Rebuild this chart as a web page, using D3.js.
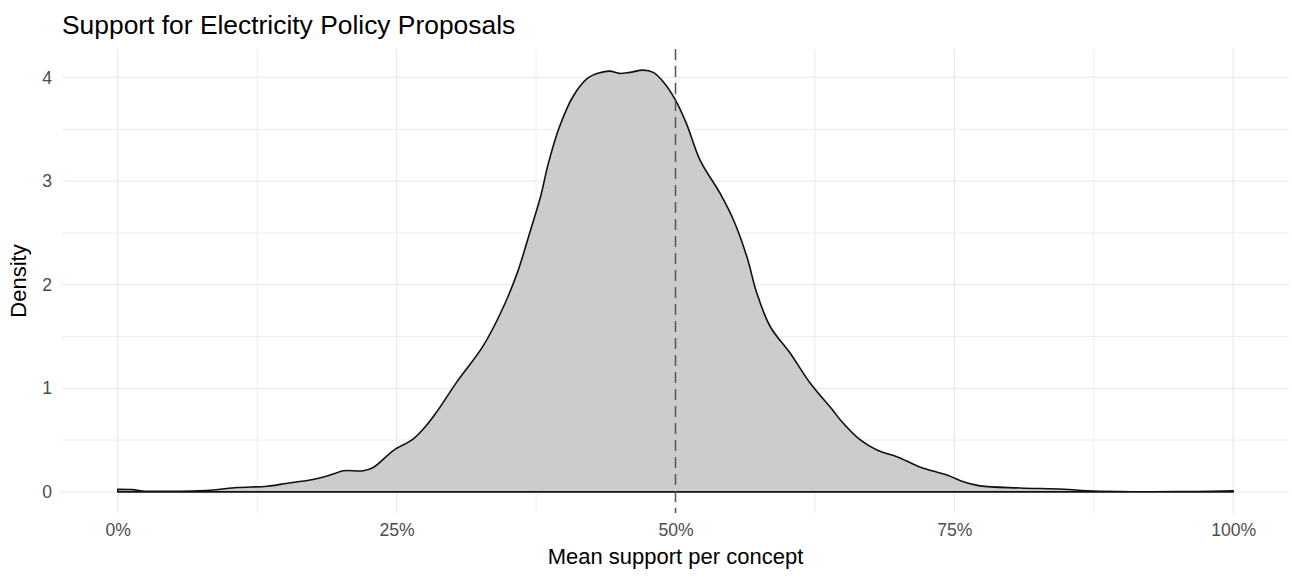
<!DOCTYPE html>
<html>
<head>
<meta charset="utf-8">
<script src="https://cdn.jsdelivr.net/npm/d3@7/dist/d3.min.js"></script>
<style>
  html, body { margin: 0; padding: 0; background: #fff; }
  svg { display: block; font-family: "Liberation Sans", Arial, Helvetica, sans-serif; }
</style>
</head>
<body>
<svg id="chart" width="1292" height="577"></svg>
<script>
// ---- data ----
const supportX = [0, 0.0135, 0.0224, 0.044, 0.0825, 0.107, 0.134, 0.152, 0.175, 0.193, 0.202, 0.220, 0.229, 0.247, 0.265, 0.278, 0.287, 0.304, 0.327, 0.343, 0.358, 0.370, 0.379, 0.386, 0.396, 0.408, 0.421, 0.432, 0.441, 0.450, 0.459, 0.471, 0.480, 0.489, 0.500, 0.510, 0.522, 0.540, 0.552, 0.564, 0.573, 0.585, 0.603, 0.621, 0.641, 0.648, 0.666, 0.681, 0.699, 0.719, 0.744, 0.758, 0.773, 0.809, 0.848, 0.869, 0.899, 0.928, 0.968, 1.0];
const densityY = [0.026, 0.022, 0.008, 0.006, 0.016, 0.042, 0.055, 0.084, 0.119, 0.172, 0.204, 0.204, 0.236, 0.399, 0.513, 0.659, 0.789, 1.062, 1.400, 1.722, 2.109, 2.526, 2.848, 3.171, 3.524, 3.814, 3.991, 4.045, 4.061, 4.039, 4.049, 4.071, 4.049, 3.959, 3.782, 3.550, 3.202, 2.881, 2.624, 2.269, 1.915, 1.594, 1.336, 1.046, 0.789, 0.692, 0.499, 0.402, 0.338, 0.241, 0.161, 0.097, 0.058, 0.038, 0.026, 0.010, 0.003, 0.002, 0.004, 0.010];
const xTicks = [0, 0.25, 0.5, 0.75, 1];
const xMinor = [0.125, 0.375, 0.625, 0.875];
const yTicks = [0, 1, 2, 3, 4];
const yMinor = [0.5, 1.5, 2.5, 3.5];
const refLine = 0.5;
const titleText = "Support for Electricity Policy Proposals";
const xTitle = "Mean support per concept";
const yTitle = "Density";

// ---- layout ----
const svg = d3.select("#chart");
const panel = { left: 62, right: 1289, top: 49, bottom: 513 };

const ymax = d3.max(densityY);
const x = d3.scaleLinear().domain([-0.05, 1.05]).range([panel.left, panel.right]);
const y = d3.scaleLinear().domain([-0.05 * ymax, ymax * 1.05]).range([panel.bottom, panel.top]);

const grid = svg.append("g");
grid.selectAll(".ymin").data(yMinor).join("line")
  .attr("x1", panel.left).attr("x2", panel.right)
  .attr("y1", d => y(d)).attr("y2", d => y(d))
  .attr("stroke", "#ebebeb").attr("stroke-width", 0.9);
grid.selectAll(".xmin").data(xMinor).join("line")
  .attr("y1", panel.top).attr("y2", panel.bottom)
  .attr("x1", d => x(d)).attr("x2", d => x(d))
  .attr("stroke", "#ebebeb").attr("stroke-width", 0.9);
grid.selectAll(".ymaj").data(yTicks).join("line")
  .attr("x1", panel.left).attr("x2", panel.right)
  .attr("y1", d => y(d)).attr("y2", d => y(d))
  .attr("stroke", "#ebebeb").attr("stroke-width", 1.3);
grid.selectAll(".xmaj").data(xTicks).join("line")
  .attr("y1", panel.top).attr("y2", panel.bottom)
  .attr("x1", d => x(d)).attr("x2", d => x(d))
  .attr("stroke", "#ebebeb").attr("stroke-width", 1.3);

// density area
const pts = supportX.map((v, i) => [v, densityY[i]]);
const area = d3.area()
  .x(d => x(d[0])).y0(y(0)).y1(d => y(d[1]))
  .curve(d3.curveCatmullRom.alpha(0.5));
svg.append("path").datum(pts)
  .attr("d", area)
  .attr("fill", "#cccccc")
  .attr("stroke", "#111")
  .attr("stroke-width", 1.6)
  .attr("stroke-linejoin", "round");

// reference dashed line
svg.append("line")
  .attr("x1", x(refLine)).attr("x2", x(refLine))
  .attr("y1", panel.top).attr("y2", panel.bottom)
  .attr("stroke", "#555").attr("stroke-width", 1.5)
  .attr("stroke-dasharray", "11,6");

// axes
const xAxis = d3.axisBottom(x).tickValues(xTicks).tickFormat(d3.format(".0%")).tickSize(0).tickPadding(0);
const gx = svg.append("g").attr("transform", `translate(0,${panel.bottom + 10})`).call(xAxis);
gx.select(".domain").remove();
gx.selectAll("text").attr("fill", "#4d4d4d").style("font-size", "17.6px")
  .attr("dy", "0.71em").attr("y", 0);

const yAxis = d3.axisLeft(y).tickValues(yTicks).tickFormat(d3.format("d")).tickSize(0).tickPadding(0);
const gy = svg.append("g").attr("transform", `translate(${panel.left - 10},0)`).call(yAxis);
gy.select(".domain").remove();
gy.selectAll("text").attr("fill", "#4d4d4d").style("font-size", "17.6px").attr("x", 0);

// titles
svg.append("text").attr("x", panel.left).attr("y", 34)
  .style("font-size", "26.4px").attr("fill", "#000").text(titleText);
svg.append("text").attr("x", (panel.left + panel.right) / 2).attr("y", 564)
  .attr("text-anchor", "middle").style("font-size", "22px").attr("fill", "#000").text(xTitle);
svg.append("text")
  .attr("transform", `translate(26,${(panel.top + panel.bottom) / 2}) rotate(-90)`)
  .attr("text-anchor", "middle").style("font-size", "22px").attr("fill", "#000").text(yTitle);
</script>
</body>
</html>
